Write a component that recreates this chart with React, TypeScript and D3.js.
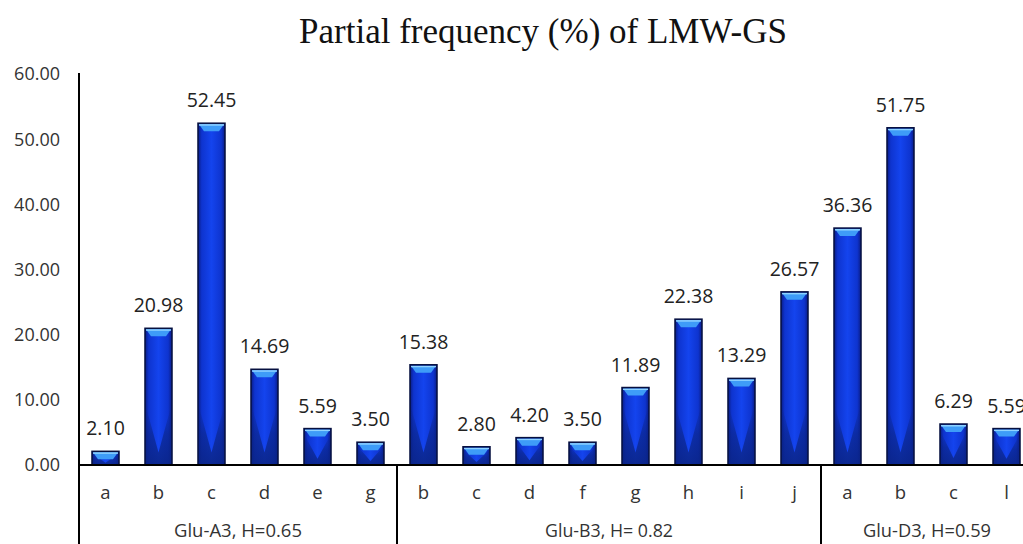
import React, { useEffect, useRef } from "react";
import * as d3 from "d3";

const categories = ["a", "b", "c", "d", "e", "g", "b", "c", "d", "f", "g", "h", "i", "j", "a", "b", "c", "l"];
const values = [2.1, 20.98, 52.45, 14.69, 5.59, 3.5, 15.38, 2.8, 4.2, 3.5, 11.89, 22.38, 13.29, 26.57, 36.36, 51.75, 6.29, 5.59];
const groupLabels = ["Glu-A3, H=0.65", "Glu-B3, H= 0.82", "Glu-D3, H=0.59"];
const groupSizes = [6, 8, 4];
const yTicks = [0, 10, 20, 30, 40, 50, 60];

const width = 1023;
const height = 544;
const margin = { left: 79, top: 74, bottom: 465 };
const labelFont = "'Open Sans', 'DejaVu Sans', sans-serif";

const App = (): JSX.Element => {
  const ref = useRef<SVGSVGElement>(null);

  useEffect(() => {
    const svg = d3.select(ref.current);
    svg.selectAll("*").remove();

    const x = d3
      .scaleBand<number>()
      .domain(d3.range(categories.length))
      .range([margin.left, margin.left + 53 * categories.length])
      .paddingInner(0.49)
      .paddingOuter(0.245);
    const y = d3.scaleLinear().domain([0, 60]).range([margin.bottom, margin.top]);

    const defs = svg.append("defs");
    const grad = defs
      .append("linearGradient")
      .attr("id", "barGrad")
      .attr("x1", "0")
      .attr("x2", "1")
      .attr("y1", "0")
      .attr("y2", "0");
    [
      [0, "#0a1c86"],
      [0.14, "#0e34cf"],
      [0.5, "#1444ee"],
      [0.86, "#0e34cf"],
      [1, "#0a1c86"],
    ].forEach(([o, c]) => grad.append("stop").attr("offset", o as number).attr("stop-color", c as string));

    const bottomGrad = defs
      .append("linearGradient")
      .attr("id", "bottomGrad")
      .attr("x1", "0")
      .attr("x2", "0")
      .attr("y1", "0")
      .attr("y2", "1");
    bottomGrad.append("stop").attr("offset", 0).attr("stop-color", "#0a2382").attr("stop-opacity", 0);
    bottomGrad.append("stop").attr("offset", 0.5).attr("stop-color", "#0a2382").attr("stop-opacity", 0.6);
    bottomGrad.append("stop").attr("offset", 1).attr("stop-color", "#0a2382").attr("stop-opacity", 0.85);

    // title
    svg
      .append("text")
      .attr("x", 543)
      .attr("y", 43)
      .attr("text-anchor", "middle")
      .style("font-family", "'Liberation Serif', 'Times New Roman', serif")
      .style("font-size", "35px")
      .attr("fill", "#111")
      .text("Partial frequency (%) of LMW-GS");

    // y tick labels
    svg
      .append("g")
      .selectAll("text")
      .data(yTicks)
      .join("text")
      .attr("x", 60)
      .attr("y", (d) => y(d))
      .attr("dy", "0.36em")
      .attr("text-anchor", "end")
      .style("font-family", labelFont)
      .style("font-size", "18px")
      .attr("fill", "#333")
      .text((d) => d.toFixed(2));

    // bars
    const bars = svg
      .append("g")
      .selectAll("g")
      .data(values)
      .join("g")
      .attr("transform", (_, i) => `translate(${x(i)},0)`);
    const bw = x.bandwidth();

    bars
      .append("rect")
      .attr("y", (d) => y(d))
      .attr("width", bw)
      .attr("height", (d) => y(0) - y(d))
      .attr("fill", "url(#barGrad)");

    bars
      .append("path")
      .attr("d", (d) => {
        const h = y(0) - y(d);
        const hv = Math.min(h * 0.85, 62);
        const yb = y(0);
        return `M0,${yb} L0,${yb - hv} L${bw / 2},${yb - hv * 0.2} L${bw},${yb - hv} L${bw},${yb} Z`;
      })
      .attr("fill", "url(#bottomGrad)");

    bars
      .append("path")
      .attr("d", (d) => {
        const t = y(d) + 1;
        const ch = Math.min(7, (y(0) - y(d)) * 0.5);
        return `M1,${t} L${bw - 1},${t} L${bw - 6},${t + ch} L6,${t + ch} Z`;
      })
      .attr("fill", "#3e9cf8");

    bars
      .append("rect")
      .attr("x", 1)
      .attr("y", (d) => y(d) + 1)
      .attr("width", bw - 2)
      .attr("height", 1.5)
      .attr("fill", "#8fd3ff");

    bars
      .append("rect")
      .attr("y", (d) => y(d))
      .attr("width", bw)
      .attr("height", (d) => y(0) - y(d))
      .attr("fill", "none")
      .attr("stroke", "#06103f")
      .attr("stroke-width", 1.5);

    // value labels
    bars
      .append("text")
      .attr("x", bw / 2)
      .attr("y", (d) => y(d) - 16)
      .attr("text-anchor", "middle")
      .style("font-family", labelFont)
      .style("font-size", "19.5px")
      .attr("fill", "#222")
      .text((d) => d.toFixed(2));

    // axes
    const axis = svg.append("g").attr("stroke", "#000").attr("stroke-width", 2);
    axis
      .append("line")
      .attr("x1", margin.left)
      .attr("x2", margin.left)
      .attr("y1", margin.top - 1)
      .attr("y2", height);
    axis
      .append("line")
      .attr("x1", margin.left)
      .attr("x2", width)
      .attr("y1", y(0))
      .attr("y2", y(0));

    // category labels
    svg
      .append("g")
      .selectAll("text")
      .data(categories)
      .join("text")
      .attr("x", (_, i) => (x(i) as number) + bw / 2)
      .attr("y", 499)
      .attr("text-anchor", "middle")
      .style("font-family", labelFont)
      .style("font-size", "18.5px")
      .attr("fill", "#333")
      .text((d) => d);

    // group separators and labels
    const step = x.step();
    let start = 0;
    groupSizes.forEach((n, gi) => {
      const x0 = margin.left + start * step;
      const x1 = margin.left + (start + n) * step;
      if (gi > 0) {
        axis.append("line").attr("x1", x0).attr("x2", x0).attr("y1", y(0)).attr("y2", height);
      }
      svg
        .append("text")
        .attr("x", (x0 + x1) / 2)
        .attr("y", 537)
        .attr("textLength", 128)
        .attr("lengthAdjust", "spacingAndGlyphs")
        .attr("text-anchor", "middle")
        .style("font-family", labelFont)
        .style("font-size", "19px")
        .attr("fill", "#333")
        .text(groupLabels[gi]);
      start += n;
    });
  }, []);

  return (
    <svg
      ref={ref}
      width={width}
      height={height}
      style={{ position: "absolute", left: 0, top: 0, background: "#fff" }}
    />
  );
};

export default App;
